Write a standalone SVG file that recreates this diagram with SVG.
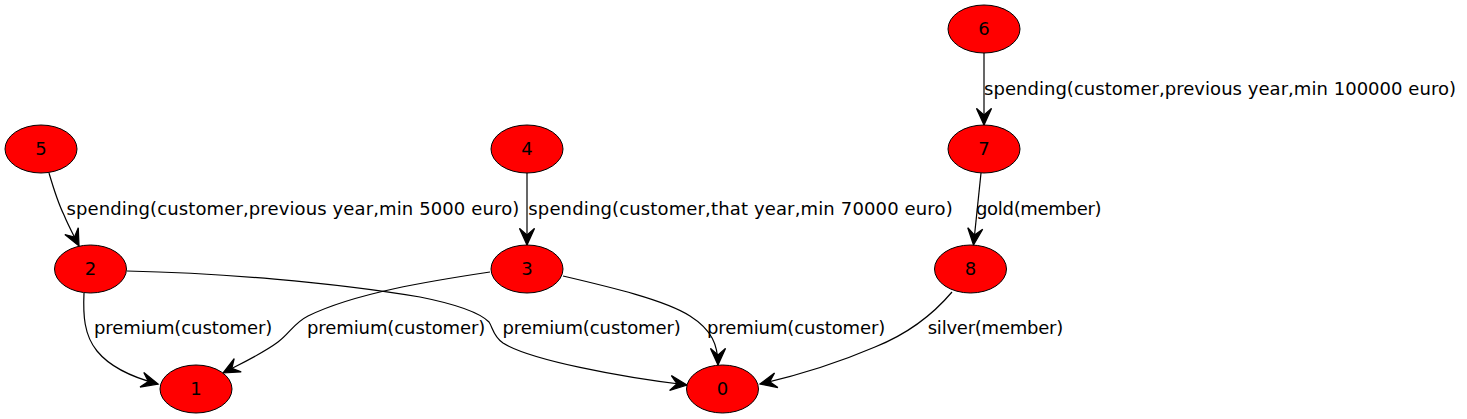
<svg xmlns="http://www.w3.org/2000/svg" width="1467" height="419" viewBox="0 0 1467 419">
<style>
.n ellipse{fill:#ff0000;stroke:#000;stroke-width:1}
text{font-family:"DejaVu Sans","Liberation Sans",sans-serif;font-size:18px;fill:#000}
.n text{text-anchor:middle}
.e path{fill:none;stroke:#000;stroke-width:1.2;marker-end:url(#vee)}
</style>
<defs>
<marker id="vee" markerUnits="userSpaceOnUse" orient="auto" markerWidth="20" markerHeight="20" viewBox="-15 -8 16 16" refX="0" refY="0" overflow="visible">
<path d="M0,0 L-13.3,-6 L-8,0 L-13.3,6 Z" fill="#000" stroke="#000" stroke-width="1"/>
</marker>
</defs>
<g id="edges" class="e">
<path d="M984,53 L984,125"/>
<path d="M49,173 C54,190 59,205 64,215 C68,225 74,236 79,246"/>
<path d="M527,173 L527,245"/>
<path d="M981,173 L973.5,245"/>
<path d="M84,293 C83,315 84,335 97,351 C110,367 135,378 158,384"/>
<path d="M490,272 C430,281 355,293 308,316 C294,323 290,333 278,342 C262,354 240,364 223,373"/>
<path d="M127,271 C220,273 330,282 420,297 C455,304 480,313 489,322 C493,328 493,336 503,343 C530,360 620,377 687,385"/>
<path d="M563,276 C610,287 665,300 690,316 C712,330 718,345 718,365"/>
<path d="M952,292 C930,318 905,335 875,347 C840,362 795,376 760,384"/>
</g>
<g id="edge-labels">
<text x="984" y="94.5" textLength="472" lengthAdjust="spacing">spending(customer,previous year,min 100000 euro)</text>
<text x="66.5" y="214.5" textLength="452.8" lengthAdjust="spacing">spending(customer,previous year,min 5000 euro)</text>
<text x="528.3" y="214.5" textLength="424.4" lengthAdjust="spacing">spending(customer,that year,min 70000 euro)</text>
<text x="976" y="214.5" textLength="125.6" lengthAdjust="spacing">gold(member)</text>
<text x="94" y="334" textLength="178.3" lengthAdjust="spacing">premium(customer)</text>
<text x="307" y="334" textLength="178.3" lengthAdjust="spacing">premium(customer)</text>
<text x="502.5" y="334" textLength="178.3" lengthAdjust="spacing">premium(customer)</text>
<text x="707" y="334" textLength="178.3" lengthAdjust="spacing">premium(customer)</text>
<text x="927.7" y="334" textLength="135.6" lengthAdjust="spacing">silver(member)</text>
</g>
<g id="node6" class="n"><ellipse cx="984" cy="29" rx="36" ry="24"/><text x="984" y="35">6</text></g>
<g id="node5" class="n"><ellipse cx="41" cy="149" rx="36" ry="24"/><text x="41" y="155">5</text></g>
<g id="node4" class="n"><ellipse cx="527" cy="149" rx="36" ry="24"/><text x="527" y="155">4</text></g>
<g id="node7" class="n"><ellipse cx="984" cy="149" rx="36" ry="24"/><text x="984" y="155">7</text></g>
<g id="node2" class="n"><ellipse cx="90.5" cy="269" rx="36" ry="24"/><text x="90.5" y="275">2</text></g>
<g id="node3" class="n"><ellipse cx="527" cy="269" rx="36" ry="24"/><text x="527" y="275">3</text></g>
<g id="node8" class="n"><ellipse cx="970.5" cy="269" rx="36" ry="24"/><text x="970.5" y="275">8</text></g>
<g id="node1" class="n"><ellipse cx="196" cy="389" rx="36" ry="24"/><text x="196" y="395">1</text></g>
<g id="node0" class="n"><ellipse cx="722.5" cy="389" rx="36" ry="24"/><text x="722.5" y="395">0</text></g>
</svg>
